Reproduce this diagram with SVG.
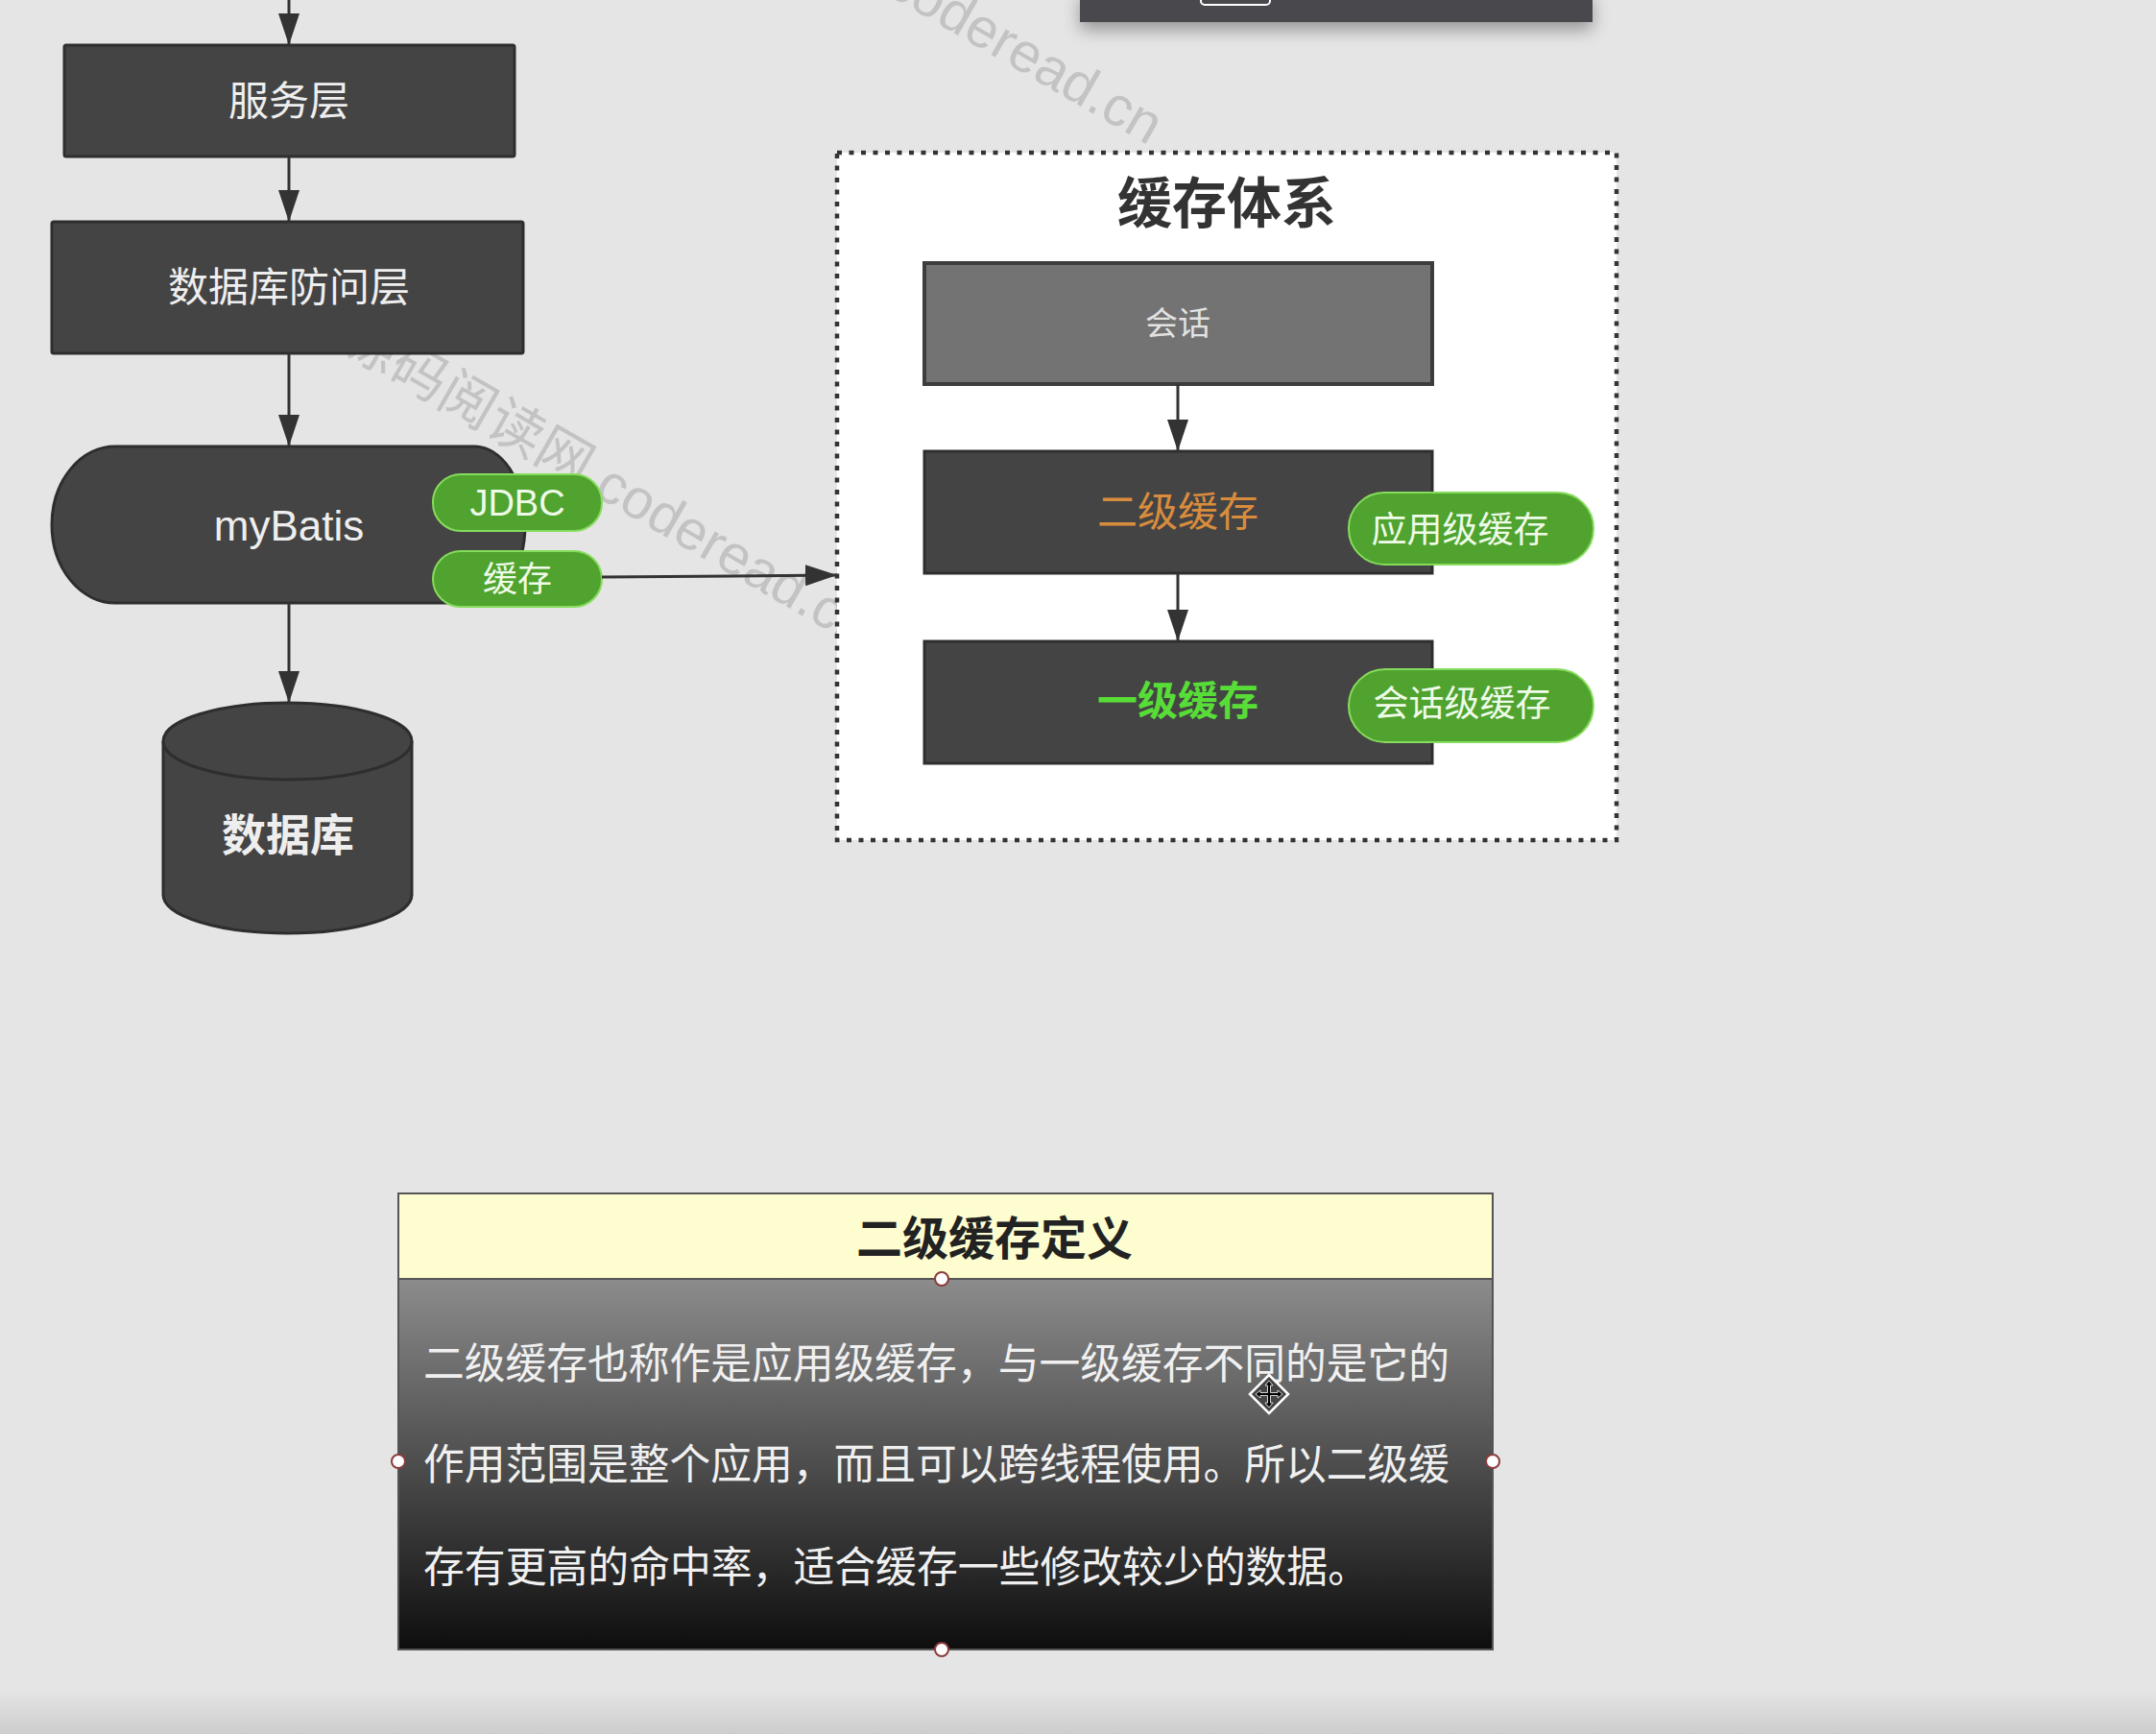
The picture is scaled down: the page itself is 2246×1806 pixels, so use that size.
<svg xmlns="http://www.w3.org/2000/svg" width="2246" height="1806" viewBox="0 0 2246 1806">
<defs>
<style>
.cjk{font-family:"Liberation Sans","Noto Sans CJK SC",sans-serif;}
.dark{fill:#444444;stroke:#2e2e2e;stroke-width:3;}
.pill{fill:#4fa32e;stroke:#86dc5c;stroke-width:2;}
.wt{fill:#eeeeee;text-anchor:middle;dominant-baseline:central;}
.pt{fill:#eefbe8;text-anchor:middle;dominant-baseline:central;font-size:37px;}
.conn{stroke:#333333;stroke-width:3;fill:none;}
.handle{fill:#ffffff;stroke:#8a3c3c;stroke-width:2;}
.wm{fill:#c3c3c3;font-size:58px;}
.body{fill:#f0f0f0;font-size:44px;dominant-baseline:central;}
</style>
<marker id="arr" markerUnits="userSpaceOnUse" markerWidth="34" markerHeight="22" refX="33" refY="11" orient="auto">
<path d="M0,0 L33,11 L0,22 Z" fill="#333333"/>
</marker>
<linearGradient id="bodyGrad" x1="0" y1="0" x2="0" y2="1">
<stop offset="0" stop-color="#8c8c8c"/>
<stop offset="1" stop-color="#0e0e0e"/>
</linearGradient>
<linearGradient id="bottomGrad" x1="0" y1="0" x2="0" y2="1">
<stop offset="0" stop-color="#e5e5e5"/>
<stop offset="1" stop-color="#cdcdcd"/>
</linearGradient>
<filter id="shadow" x="-10%" y="-50%" width="120%" height="300%">
<feGaussianBlur in="SourceAlpha" stdDeviation="9"/>
<feOffset dy="8"/>
<feComponentTransfer><feFuncA type="linear" slope="0.35"/></feComponentTransfer>
<feMerge><feMergeNode/><feMergeNode in="SourceGraphic"/></feMerge>
</filter>
</defs>

<rect x="0" y="0" width="2246" height="1806" fill="#e5e5e5"/>
<rect x="0" y="1760" width="2246" height="46" fill="url(#bottomGrad)"/>

<g id="watermarks" class="cjk">
<text class="wm" transform="translate(352,362) rotate(30)">源码阅读网 coderead.cn</text>
<text class="wm" transform="translate(655,-161) rotate(30)">源码阅读网 coderead.cn</text>
</g>

<g id="top-bar">
<rect x="1125" y="-10" width="534" height="33" fill="#48494e" filter="url(#shadow)"/>
<rect x="1251" y="-12" width="72" height="17" rx="4" fill="none" stroke="#ffffff" stroke-width="2"/>
</g>

<g id="service-layer">
<rect class="dark" x="67" y="47" width="469" height="116" rx="2"/>
<text class="cjk wt" x="301" y="105" font-size="42">服务层</text>
</g>

<g id="db-access-layer">
<rect class="dark" x="54" y="231" width="491" height="137" rx="2"/>
<text class="cjk wt" x="301" y="299" font-size="42">数据库防问层</text>
</g>

<g id="mybatis">
<path class="dark" d="M120,465 L494,465 A53,81.5 0 0 1 494,628 L120,628 A66,81.5 0 0 1 120,465 Z"/>
<text class="cjk wt" x="301" y="547" font-size="44">myBatis</text>
</g>

<g id="jdbc">
<rect class="pill" x="451" y="494" width="176" height="59" rx="29"/>
<text class="cjk pt" x="539" y="524" style="font-size:38px">JDBC</text>
</g>

<g id="cache">
<rect class="pill" x="451" y="574" width="176" height="58" rx="29"/>
<text class="cjk pt" x="539" y="603" style="font-size:36px">缓存</text>
</g>

<g id="database">
<path class="dark" d="M170,772 L170,932 A129.5,40 0 0 0 429,932 L429,772 A129.5,40 0 0 0 170,772 Z"/>
<path d="M170,772 A129.5,40 0 0 0 429,772" fill="none" stroke="#2e2e2e" stroke-width="3"/>
<text class="cjk wt" x="300" y="870" font-size="46" font-weight="700" fill="#ffffff">数据库</text>
</g>

<g id="cache-system">
<rect x="872" y="159" width="812" height="716" fill="#ffffff" stroke="#333333" stroke-width="4.5" stroke-dasharray="5 7.5"/>
<text class="cjk" x="1278" y="212" font-size="57" font-weight="700" fill="#333333" text-anchor="middle" dominant-baseline="central">缓存体系</text>
</g>

<g id="session">
<rect x="963" y="274" width="529" height="126" fill="#737373" stroke="#3d3d3d" stroke-width="4"/>
<text class="cjk" x="1227" y="337" font-size="34" fill="#e2e2e2" text-anchor="middle" dominant-baseline="central">会话</text>
</g>

<g id="l2-cache">
<rect class="dark" x="963" y="470" width="529" height="127"/>
<text class="cjk" x="1227" y="533" font-size="42" fill="#d98c3c" text-anchor="middle" dominant-baseline="central">二级缓存</text>
</g>

<g id="app-cache">
<rect class="pill" x="1405" y="513" width="255" height="75" rx="37"/>
<text class="cjk pt" x="1521" y="552">应用级缓存</text>
</g>

<g id="l1-cache">
<rect class="dark" x="963" y="668" width="529" height="127"/>
<text class="cjk" x="1227" y="730" font-size="42" font-weight="700" fill="#58dd38" text-anchor="middle" dominant-baseline="central">一级缓存</text>
</g>

<g id="session-cache">
<rect class="pill" x="1405" y="697" width="255" height="76" rx="38"/>
<text class="cjk pt" x="1523" y="733">会话级缓存</text>
</g>

<g id="connectors">
<line class="conn" x1="301" y1="0" x2="301" y2="47" marker-end="url(#arr)"/>
<line class="conn" x1="301" y1="163" x2="301" y2="231" marker-end="url(#arr)"/>
<line class="conn" x1="301" y1="368" x2="301" y2="465" marker-end="url(#arr)"/>
<line class="conn" x1="301" y1="628" x2="301" y2="732" marker-end="url(#arr)"/>
<line class="conn" x1="627" y1="601" x2="872" y2="599" marker-end="url(#arr)"/>
<line class="conn" x1="1227" y1="400" x2="1227" y2="470" marker-end="url(#arr)"/>
<line class="conn" x1="1227" y1="597" x2="1227" y2="668" marker-end="url(#arr)"/>
</g>

<g id="definition-card">
<rect x="415" y="1332" width="1140" height="386" fill="url(#bodyGrad)" stroke="#555555" stroke-width="2"/>
<rect x="415" y="1243" width="1140" height="89" fill="#fdfdcf" stroke="#555555" stroke-width="2"/>
<text class="cjk" x="1036" y="1290" font-size="48" font-weight="700" fill="#222222" text-anchor="middle" dominant-baseline="central">二级缓存定义</text>
<text class="cjk body" x="441" y="1420" textLength="1069" lengthAdjust="spacingAndGlyphs">二级缓存也称作是应用级缓存，与一级缓存不同的是它的</text>
<text class="cjk body" x="441" y="1525" textLength="1069" lengthAdjust="spacingAndGlyphs">作用范围是整个应用，而且可以跨线程使用。所以二级缓</text>
<text class="cjk body" x="441" y="1632" textLength="985" lengthAdjust="spacingAndGlyphs">存有更高的命中率，适合缓存一些修改较少的数据。</text>
<circle class="handle" cx="981" cy="1332" r="7"/>
<circle class="handle" cx="981" cy="1718" r="7"/>
<circle class="handle" cx="415" cy="1522" r="7"/>
<circle class="handle" cx="1555" cy="1522" r="7"/>
</g>

<g id="cursor">
<path d="M1322,1432 L1342,1452 L1322,1472 L1302,1452 Z" fill="#444444" stroke="#ffffff" stroke-width="2.5"/>
<path d="M1322,1438 L1326,1443 L1323.5,1443 L1323.5,1450.5 L1331,1450.5 L1331,1448 L1336,1452 L1331,1456 L1331,1453.5 L1323.5,1453.5 L1323.5,1461 L1326,1461 L1322,1466 L1318,1461 L1320.5,1461 L1320.5,1453.5 L1313,1453.5 L1313,1456 L1308,1452 L1313,1448 L1313,1450.5 L1320.5,1450.5 L1320.5,1443 L1318,1443 Z" fill="#000000" stroke="#ffffff" stroke-width="0.8"/>
</g>
</svg>
